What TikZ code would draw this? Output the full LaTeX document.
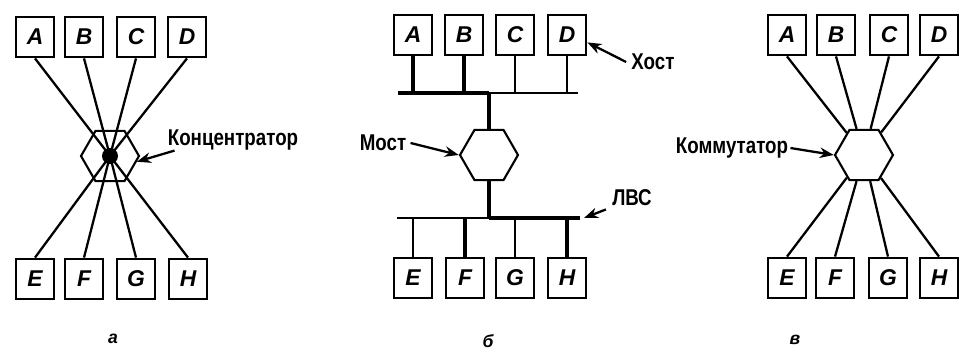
\documentclass[tikz,border=0pt]{standalone}
\usepackage{fontspec}
\setmainfont{Liberation Sans}
\newfontfamily\lblfont{Liberation Sans}[FakeStretch=0.82]
\usetikzlibrary{shapes.geometric,arrows.meta}

\begin{document}
\begin{tikzpicture}[x=0.02cm,y=-0.02cm,
  host/.style={rectangle,draw,line width=1.6pt,minimum width=0.76cm,
    minimum height=0.8cm,inner sep=0pt,
    font=\fontsize{13}{13}\selectfont\bfseries\itshape},
  hub/.style={regular polygon,regular polygon sides=6,draw,line width=1.2pt,
    minimum size=1.16cm,inner sep=0pt},
  wire/.style={line width=1.3pt},
  thickwire/.style={line width=2.6pt},
  lbl/.style={inner sep=0pt,font=\lblfont\fontsize{13}{13}\selectfont\bfseries},
  sublbl/.style={inner sep=0pt,font=\fontsize{10}{10}\selectfont\bfseries\itshape},
  ptr/.style={-{Stealth[length=8pt,width=6pt]},line width=1.3pt}
]
\useasboundingbox (0,0) rectangle (961,352);

% а: концентратор
\node[host] (aA) at (35,37)  {A};
\node[host] (aB) at (84,37)  {B};
\node[host] (aC) at (136,37) {C};
\node[host] (aD) at (187,37) {D};
\node[host] (aE) at (35,279)  {E};
\node[host] (aF) at (84,279)  {F};
\node[host] (aG) at (136,279) {G};
\node[host] (aH) at (188,279) {H};
\node[hub]  (hubA) at (110,156) {};

\draw[wire] (aA.south)--(hubA.center);
\draw[wire] (aB.south)--(hubA.center);
\draw[wire] (aC.south)--(hubA.center);
\draw[wire] (aD.south)--(hubA.center);
\draw[wire] (aE.north)--(hubA.center);
\draw[wire] (aF.north)--(hubA.center);
\draw[wire] (aG.north)--(hubA.center);
\draw[wire] (aH.north)--(hubA.center);
\node[circle,fill,minimum size=0.32cm,inner sep=0pt] (dot) at (hubA.center) {};

\node[lbl] (lconc) at (233,140) {Концентратор};
\draw[ptr] ([xshift=0.14cm]lconc.south west)--(hubA.-12);
\node[sublbl] (sa) at (113,339) {а};

% б: мост
\node[host] (bA) at (413,35) {A};
\node[host] (bB) at (464,35) {B};
\node[host] (bC) at (515,35) {C};
\node[host] (bD) at (567,35) {D};
\node[host] (bE) at (413,278) {E};
\node[host] (bF) at (465,278) {F};
\node[host] (bG) at (515,278) {G};
\node[host] (bH) at (567,278) {H};
\node[hub]  (bridge) at (489,155) {};

\coordinate (topL) at (398,93);
\coordinate (topJ) at (489,93);
\coordinate (topR) at (578,93);
\coordinate (botL) at (397,218);
\coordinate (botJ) at (489,218);
\coordinate (botR) at (580,218);

\draw[thickwire] (topL)--(topJ);
\draw[wire]      (topJ)--(topR);
\draw[thickwire] (topJ)--(bridge.north);
\draw[thickwire] (bridge.south)--(botJ);
\draw[wire]      (botL)--(botJ);
\draw[thickwire] (botJ)--(botR);

\draw[thickwire] (bA.south)--(bA.south |- topL);
\draw[thickwire] (bB.south)--(bB.south |- topL);
\draw[wire]      (bC.south)--(bC.south |- topL);
\draw[wire]      (bD.south)--(bD.south |- topL);
\draw[wire]      (bE.north)--(bE.north |- botL);
\draw[thickwire] (bF.north)--(bF.north |- botL);
\draw[wire]      (bG.north)--(bG.north |- botL);
\draw[thickwire] (bH.north)--(bH.north |- botL);

\node[lbl] (lhost) at (653,62) {Хост};
\draw[ptr] ([xshift=-0.1cm]lhost.west)--(bD.-20);
\node[lbl] (lbridge) at (383,143) {Мост};
\draw[ptr] ([xshift=0.08cm]lbridge.east)--(bridge.west);
\node[lbl] (llan) at (632,198) {ЛВС};
\draw[ptr] ([xshift=-0.12cm,yshift=-0.06cm]llan.south west)--([xshift=0.08cm]botR);
\node[sublbl] (sb) at (488,341) {б};

% в: коммутатор
\node[host] (cA) at (787,35) {A};
\node[host] (cB) at (836,35) {B};
\node[host] (cC) at (889,35) {C};
\node[host] (cD) at (939,35) {D};
\node[host] (cE) at (787,278) {E};
\node[host] (cF) at (835,278) {F};
\node[host] (cG) at (888,278) {G};
\node[host] (cH) at (939,278) {H};
\node[hub]  (switch) at (864,155) {};

\draw[wire] (cA.south)--(switch);
\draw[wire] (cB.south)--(switch);
\draw[wire] (cC.south)--(switch);
\draw[wire] (cD.south)--(switch);
\draw[wire] (cE.north)--(switch);
\draw[wire] (cF.north)--(switch);
\draw[wire] (cG.north)--(switch);
\draw[wire] (cH.north)--(switch);

\node[lbl] (lswitch) at (732,148) {Коммутатор};
\draw[ptr] ([xshift=0.04cm]lswitch.east)--(switch.west);
\node[sublbl] (sc) at (795,340) {в};
\end{tikzpicture}
\end{document}
